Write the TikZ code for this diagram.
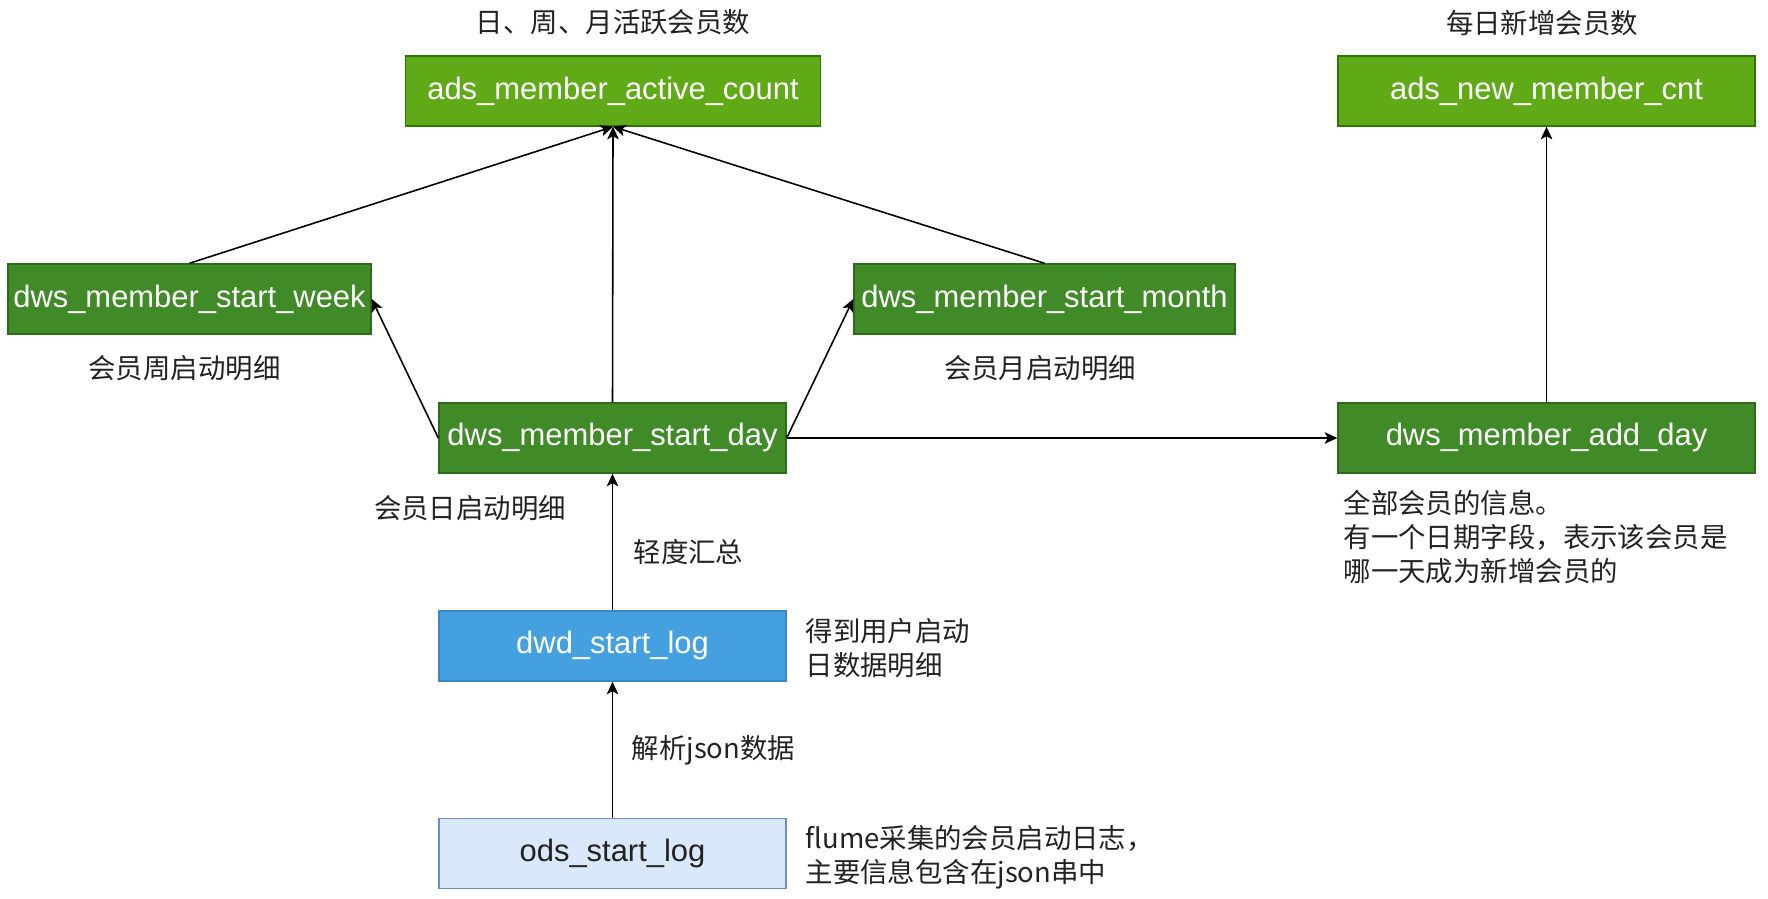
\documentclass[tikz,border=0pt]{standalone}
\usepackage{fontspec}
\setmainfont{Liberation Sans}
\newfontfamily\cjk{Noto Sans CJK SC}
\usepackage{xcolor}
\usetikzlibrary{arrows.meta}

\definecolor{adsfill}{HTML}{60A917}
\definecolor{adsline}{HTML}{2D7600}
\definecolor{dwsfill}{HTML}{408A28}
\definecolor{dwsline}{HTML}{2D6B1B}
\definecolor{dwdfill}{HTML}{45A0E0}
\definecolor{dwdline}{HTML}{3A87C8}
\definecolor{odsfill}{HTML}{DAE8FC}
\definecolor{odsline}{HTML}{6C8EBF}
\definecolor{notegray}{HTML}{222222}

\begin{document}
\begin{tikzpicture}[
  tbl/.style={draw, minimum height=0.7cm, inner sep=0pt, font=\fontsize{8.8}{10}\selectfont},
  adsbox/.style={tbl, fill=adsfill, draw=adsline, text=white},
  dwsbox/.style={tbl, fill=dwsfill, draw=dwsline, text=white},
  note/.style={font=\cjk\fontsize{7.8}{9.65}\selectfont, text=notegray, inner sep=0pt, align=left},
  flow/.style={-{Stealth[length=3.6pt,width=3.3pt,inset=0.9pt]}, line width=0.45pt}
]
\useasboundingbox (0,0) rectangle (17.68,8.98);

% ads layer
\node[adsbox, minimum width=4.15cm] (act) at (6.13,8.07) {ads\_member\_active\_count};
\node[adsbox, minimum width=4.17cm] (new) at (15.465,8.07) {ads\_new\_member\_cnt};
\node[note] (acttitle) at (6.13,8.76) {日、周、月活跃会员数};
\node[note] (newtitle) at (15.42,8.75) {每日新增会员数};

% dws layer
\node[dwsbox, minimum width=3.63cm] (week) at (1.895,5.99) {dws\_member\_start\_week};
\node[dwsbox, minimum width=3.81cm] (month) at (10.445,5.99) {dws\_member\_start\_month};
\node[dwsbox, minimum width=3.47cm] (day) at (6.125,4.60) {dws\_member\_start\_day};
\node[dwsbox, minimum width=4.17cm] (add) at (15.465,4.60) {dws\_member\_add\_day};
\node[note] (weeknote) at (1.845,5.30) {会员周启动明细};
\node[note] (monthnote) at (10.40,5.30) {会员月启动明细};
\node[note] (daynote) at (4.70,3.90) {会员日启动明细};
\node[note, anchor=west] (addnote) at (13.43,3.61) {全部会员的信息。\\有一个日期字段，表示该会员是\\哪一天成为新增会员的};

% dwd / ods layer
\node[tbl, fill=dwdfill, draw=dwdline, text=white, minimum width=3.47cm] (dwd) at (6.125,2.52) {dwd\_start\_log};
\node[tbl, fill=odsfill, draw=odsline, text=notegray, minimum width=3.47cm] (ods) at (6.125,0.445) {ods\_start\_log};
\node[note, anchor=west] (dwdnote) at (8.05,2.495) {得到用户启动\\日数据明细};
\node[note, anchor=west] (odsnote) at (8.05,0.41) {flume采集的会员启动日志，\\主要信息包含在json串中};
\node[note, anchor=west] (light) at (6.33,3.46) {轻度汇总};
\node[note, anchor=west] (parse) at (6.31,1.48) {解析json数据};

\draw[flow] (ods.north) -- (dwd.south);
\draw[flow] (dwd.north) -- (day.south);
\draw[flow] (day.west) -- (week.east);
\draw[flow] (day.east) -- (month.west);
\draw[flow] (day.east) -- (add.west);
\draw[flow] (week.north) -- (act.south);
\draw[flow] (day.north) -- (act.south);
\draw[flow] (month.north) -- (act.south);
\draw[flow] (add.north) -- (new.south);

\end{tikzpicture}
\end{document}
